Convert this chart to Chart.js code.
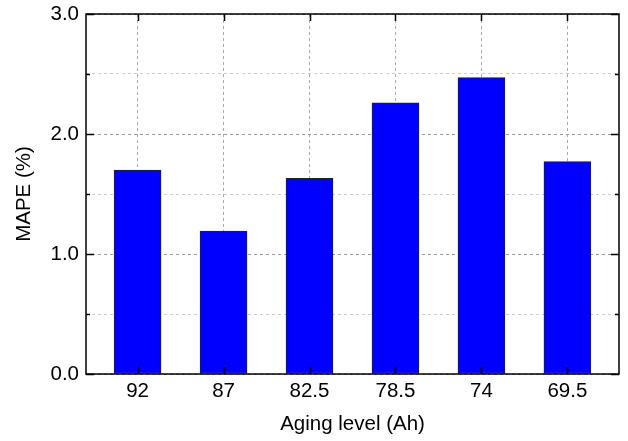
<!DOCTYPE html>
<html>
<head>
<meta charset="utf-8">
<script src="https://cdn.jsdelivr.net/npm/chart.js@4/dist/chart.umd.min.js"></script>
<style>
html, body { margin: 0; padding: 0; background: #fff; }
</style>
</head>
<body>
<canvas id="mapeChart" width="628" height="441"></canvas>
<script>
// aging level categories (Ah) and MAPE per level (%)
const agingLevels = ['92', '87', '82.5', '78.5', '74', '69.5'];
const mapeValues = [1.70, 1.19, 1.63, 2.26, 2.47, 1.77];
const yTickStep = 0.5;
const yMin = 0;
const yMax = 3;

const FONT = 'Arial, "Liberation Sans", sans-serif';

// box frame with inward ticks on all four sides
const frameTicks = {
    id: 'frameTicks',
    afterDatasetsDraw(chart) {
        const { ctx, chartArea: a, scales } = chart;
        ctx.save();
        ctx.strokeStyle = '#000';
        ctx.lineWidth = 1.5;
        ctx.beginPath();
        scales.y.ticks.forEach(t => {
            const py = Math.round(scales.y.getPixelForValue(t.value)) + 0.5;
            const len = Number.isInteger(t.value) ? 8 : 4;
            ctx.moveTo(a.left, py); ctx.lineTo(a.left + len, py);
            ctx.moveTo(a.right, py); ctx.lineTo(a.right - len, py);
        });
        scales.x.ticks.forEach(t => {
            const px = Math.round(scales.x.getPixelForValue(t.value)) + 0.5;
            ctx.moveTo(px, a.bottom); ctx.lineTo(px, a.bottom - 7);
            ctx.moveTo(px, a.top); ctx.lineTo(px, a.top + 7);
        });
        ctx.stroke();
        ctx.strokeRect(a.left, a.top, a.right - a.left, a.bottom - a.top);
        ctx.restore();
    }
};

const ctx = document.getElementById('mapeChart').getContext('2d');
new Chart(ctx, {
    type: 'bar',
    data: {
        datasets: [{
            label: 'MAPE',
            data: mapeValues.map((v, i) => ({ x: i, y: v })),
            backgroundColor: '#0000ff',
            borderColor: '#222',
            borderWidth: 1,
            borderSkipped: false,
            barThickness: 47
        }]
    },
    options: {
        responsive: false,
        animation: false,
        layout: { padding: { left: 0, right: 9, top: 0, bottom: 0 } },
        plugins: {
            legend: { display: false },
            tooltip: { enabled: false }
        },
        scales: {
            x: {
                type: 'linear',
                offset: false,
                min: -0.6,
                max: agingLevels.length - 0.4,
                afterBuildTicks: (scale) => {
                    scale.ticks = agingLevels.map((_, i) => ({ value: i }));
                },
                afterFit: (scale) => {
                    scale.height = 67;
                    scale.paddingLeft = 0;
                    scale.paddingRight = 0;
                },
                ticks: {
                    color: '#000',
                    font: { family: FONT, size: 20.5 },
                    padding: 5,
                    maxRotation: 0,
                    autoSkip: false,
                    callback: (value) => agingLevels[value]
                },
                grid: {
                    offset: false,
                    color: '#aaa',
                    drawTicks: false
                },
                border: { display: false, dash: [3, 3] },
                title: {
                    display: true,
                    text: 'Aging level (Ah)',
                    color: '#000',
                    font: { family: FONT, size: 20.5 },
                    padding: { top: 6, bottom: 4 }
                }
            },
            y: {
                min: yMin,
                max: yMax,
                afterFit: (scale) => {
                    scale.width = 86;
                    scale.paddingTop = 14;
                    scale.paddingBottom = 0;
                },
                ticks: {
                    stepSize: yTickStep,
                    color: '#000',
                    font: { family: FONT, size: 20.5 },
                    padding: 7,
                    callback: (value) => Number.isInteger(value) ? value.toFixed(1) : ''
                },
                grid: {
                    color: (c) => Number.isInteger(c.tick.value) ? '#999' : '#ccc',
                    drawTicks: false
                },
                border: { display: false, dash: [3, 3] },
                title: {
                    display: true,
                    text: 'MAPE (%)',
                    color: '#000',
                    font: { family: FONT, size: 20.5 },
                    padding: { top: 12, bottom: 8 }
                }
            }
        }
    },
    plugins: [frameTicks]
});
</script>
</body>
</html>
